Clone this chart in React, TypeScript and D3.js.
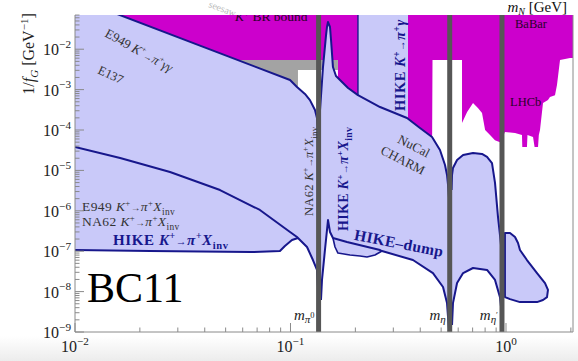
import React from "react";
import * as d3 from "d3";

const WIDTH = 578;
const HEIGHT = 361;
const PLOT = { left: 75, right: 573, top: 15, bottom: 332 };

const X_MIN = 0.01;
const X_MAX = 2.046;
const Y_MIN = 1e-9;
const Y_MAX = 0.0703;
// coupling value above the frame, used to close regions along the top edge
const Y_SKY = 0.3;

const xMajorExponents = [-2, -1, 0];
const yMajorExponents = [-9, -8, -7, -6, -5, -4, -3, -2];

// meson masses (GeV) where the bounds are vetoed
const mesons = [
  { m: 0.135, sub: "π", subSup: "0" },
  { m: 0.548, sub: "η", subSup: "" },
  { m: 0.958, sub: "η", subSup: "′" },
];

// E949 K+ -> pi+ gamma gamma upper edge of the excluded region
const e949GammaGamma: [number, number][] = [
  [0.01306, 0.108], [0.038, 0.01227], [0.0995, 1.73e-3], [0.1072, 1.16e-3],
  [0.1167, 7.8e-4], [0.1231, 5.5e-4], [0.1299, 3.13e-4], [0.1327, 1.98e-4],
  [0.1341, 1.0e-4],
];

// NA62 K+ -> pi+ X_inv reach
const na62Invisible: [number, number][] = [
  [0.01, 3.79e-5], [0.0162, 2.03e-5], [0.0276, 9.1e-6], [0.0471, 3.27e-6],
  [0.0721, 1.05e-6], [0.0995, 2.99e-7], [0.1072, 2.24e-7], [0.1083, 2.12e-7],
  [0.1193, 1.27e-7], [0.1271, 6.05e-8], [0.1327, 3.43e-8], [0.1341, 1.3e-8],
  [0.1348, 4e-9],
];

// HIKE K+ -> pi+ X_inv projection
const hikeInvisible: [number, number][] = [
  [0.01, 1.07e-7], [0.0223, 1.01e-7], [0.0649, 9.5e-8], [0.0893, 1.01e-7],
  [0.0942, 1.35e-7], [0.1016, 1.89e-7], [0.1083, 2.12e-7],
];

// beam-dump (NuCal / CHARM) upper edge between pi0 and eta
const beamDumpUpper: [number, number][] = [
  [0.1358, 1.2e-4], [0.1371, 3.13e-4], [0.1415, 3.62e-3], [0.1462, 0.0224],
  [0.1477, 0.0355], [0.1493, 0.0471], [0.1525, 0.0355], [0.1542, 0.0169],
  [0.1574, 3.62e-3], [0.1626, 2.17e-3], [0.1697, 1.73e-3], [0.185, 1.1e-3],
  [0.2056, 7.3e-4], [0.2603, 3.71e-4], [0.3473, 1.98e-4], [0.3989, 1.12e-4],
  [0.4537, 6.7e-5], [0.4939, 3.2e-5], [0.5212, 1.36e-5], [0.5325, 7.7e-6],
  [0.5383, 4.35e-6], [0.5443, 2.0e-6],
];

// HIKE beam-dump lower edge between pi0 and eta
const hikeDump: [number, number][] = [
  [0.1385, 6.2e-9], [0.14, 1.94e-8], [0.1445, 1.07e-7], [0.1493, 5.9e-7],
  [0.1525, 2.99e-7], [0.1574, 2.12e-7], [0.1828, 1.69e-7], [0.2603, 1.07e-7],
  [0.2658, 1.01e-7], [0.37, 6.05e-8], [0.4582, 2.88e-8], [0.5102, 1.3e-8],
  [0.5325, 5.2e-9], [0.5383, 2.35e-9], [0.5443, 1.12e-9],
];

// small HIKE beam-dump pocket under the main curve
const hikeDumpPocket: [number, number][] = [
  [0.1574, 2.12e-7], [0.1609, 1.27e-7], [0.166, 9.0e-8], [0.1888, 8.05e-8],
  [0.2102, 7.6e-8], [0.2264, 7.2e-8], [0.2466, 8.05e-8], [0.2658, 1.01e-7],
];

// HIKE K+ -> pi+ gamma mass window
const hikeGammaWindow: [number, number] = [0.2056, 0.3508];

// region between eta and eta'
const etaUpper: [number, number][] = [
  [0.559, 3.27e-6], [0.5617, 7.7e-6], [0.5675, 1.15e-5], [0.5928, 1.81e-5],
  [0.6324, 2.4e-5], [0.703, 2.7e-5], [0.7737, 2.55e-5], [0.8166, 2.15e-5],
  [0.861, 1.52e-5], [0.8892, 4.9e-6], [0.9182, 7.0e-7], [0.9376, 2.52e-7],
  [0.9482, 1.42e-7], [0.9572, 4.55e-8],
];
const etaLower: [number, number][] = [
  [0.5617, 1.49e-9], [0.5675, 5.2e-9], [0.5928, 1.63e-8], [0.6324, 2.88e-8],
  [0.703, 3.84e-8], [0.8166, 3.43e-8], [0.8892, 1.94e-8], [0.9376, 7.3e-9],
  [0.9572, 2.64e-9],
];

// island above eta'
const etaPrimeIsland: [number, number][] = [
  [0.9885, 2.82e-7], [1.044, 2.82e-7], [1.101, 2.24e-7], [1.137, 1.6e-7],
  [1.161, 1.07e-7], [1.251, 6.05e-8], [1.393, 2.88e-8], [1.517, 1.63e-8],
  [1.566, 1.1e-8], [1.55, 7.3e-9], [1.485, 6.2e-9], [1.393, 5.5e-9],
  [1.161, 5.5e-9], [1.044, 6.5e-9], [0.9885, 7.3e-9],
];

// K+ BR bound (top-left block)
const kBrBound = { mMin: 0.01, mMax: 0.2056, vMin: 5.41e-3, stepMin: 0.166, stepLow: 5.5e-4 };
// seesaw band
const seesawBand = { mMin: 0.0583, mMax: 0.166, vMin: 3.05e-3, vMax: 5.41e-3, tailMax: 0.1083, tailLow: 1.0e-3 };

// BaBar / LHCb lower edge, right of the HIKE K+ -> pi+ gamma window
const babarLhcb: [number, number][] = [
  [0.3508, Y_SKY], [0.3508, 7.5e-5], [0.454, 4.26e-5], [0.456, 5.41e-3],
  [0.625, 5.41e-3], [0.625, 1.49e-4], [0.66, 2.79e-4], [0.703, 4.66e-4],
  [0.741, 3.5e-4], [0.774, 2.64e-4], [0.8, 1.0e-4], [0.843, 7.5e-5],
  [0.889, 5.6e-5], [0.938, 5.0e-5], [0.989, 8.9e-5], [1.101, 8.4e-5],
  [1.186, 7.5e-5], [1.19, 3.79e-5], [1.251, 3.79e-5], [1.258, 7.5e-5],
  [1.335, 6.7e-5], [1.357, 3.79e-5], [1.408, 3.79e-5], [1.42, 7.5e-5],
  [1.438, 1.0e-4], [1.485, 4.66e-4], [1.566, 5.5e-4], [1.6, 6.6e-4],
  [1.688, 7.3e-4], [1.724, 1.3e-3], [1.781, 5.41e-3], [1.982, 6.05e-3],
  [2.2, 6.05e-3], [2.2, Y_SKY],
];

const FILL_BLUE = "#c9c9f9";
const MAGENTA = "#cc00cc";
const NAVY = "#17178c";
const BAND_GRAY = "#a3a3a3";
const AXIS_GRAY = "#8a8a8a";
const FONT = "'Liberation Serif', 'DejaVu Serif', serif";

const x = d3.scaleLog().domain([X_MIN, X_MAX]).range([PLOT.left, PLOT.right]);
const y = d3.scaleLog().domain([Y_MIN, Y_MAX]).range([PLOT.bottom, PLOT.top]);

const line = d3
  .line<[number, number]>()
  .x((d) => x(d[0]))
  .y((d) => y(d[1]));
const closed = d3
  .line<[number, number]>()
  .x((d) => x(d[0]))
  .y((d) => y(d[1]))
  .curve(d3.curveLinearClosed);

function rectPath(m0: number, m1: number, v0: number, v1: number) {
  return closed([[m0, v0], [m1, v0], [m1, v1], [m0, v1]]) as string;
}

// left of the pi0: everything below the E949 edge and above HIKE X_inv
const leftRegion: [number, number][] = [
  [X_MIN, Y_SKY],
  ...e949GammaGamma,
  [mesons[0].m, e949GammaGamma[e949GammaGamma.length - 1][1]],
  [mesons[0].m, 1.3e-8],
  ...na62Invisible.filter((d) => d[0] >= 0.1083 && d[0] <= 0.1341).reverse(),
  ...hikeInvisible.slice(0, -1).reverse(),
];

// between pi0 and eta
const midRegion: [number, number][] = [
  [mesons[0].m, beamDumpUpper[0][1]],
  ...beamDumpUpper.filter((d) => d[0] <= hikeGammaWindow[0]),
  [hikeGammaWindow[0], Y_SKY],
  [hikeGammaWindow[1], Y_SKY],
  [hikeGammaWindow[1], 1.96e-4],
  ...beamDumpUpper.filter((d) => d[0] > hikeGammaWindow[1]),
  [mesons[1].m, 2.0e-6],
  [mesons[1].m, Y_MIN],
  ...hikeDump.filter((d) => d[0] > 0.2658).reverse(),
  ...hikeDumpPocket.slice().reverse(),
  ...hikeDump.filter((d) => d[0] < 0.1574).reverse(),
  [mesons[0].m, 6.2e-9],
];

// between eta and eta'
const etaRegion: [number, number][] = [
  [mesons[1].m, 3.0e-6],
  ...etaUpper,
  [mesons[2].m, 4.55e-8],
  [mesons[2].m, 2.6e-9],
  ...etaLower.slice().reverse(),
  [mesons[1].m, 1.49e-9],
];

function minorTicks(min: number, max: number) {
  const out: { v: number; major: boolean }[] = [];
  for (let e = Math.floor(Math.log10(min)); e <= Math.ceil(Math.log10(max)); e++) {
    for (let k = 1; k <= 9; k++) {
      const v = k * Math.pow(10, e);
      if (v >= min * 0.999 && v <= max * 1.001) out.push({ v, major: k === 1 });
    }
  }
  return out;
}

function Decay({ fs, tail, sub }: { fs: number; tail: string; sub?: string }) {
  const up = fs * 0.38;
  return (
    <>
      <tspan fontStyle="italic">K</tspan>
      <tspan dy={-up} fontSize={fs * 0.65}>+</tspan>
      <tspan dy={up} fontSize={fs * 0.72}>→</tspan>
      <tspan fontStyle="italic">π</tspan>
      <tspan dy={-up} fontSize={fs * 0.65}>+</tspan>
      <tspan dy={up} fontStyle="italic">{tail}</tspan>
      {sub ? (
        <tspan dy={fs * 0.28} fontSize={fs * 0.7}>{sub}</tspan>
      ) : null}
    </>
  );
}

function Power({ exp, fs }: { exp: number; fs: number }) {
  return (
    <>
      <tspan>10</tspan>
      <tspan dy={-fs * 0.45} fontSize={fs * 0.7}>
        {exp < 0 ? `−${-exp}` : `${exp}`}
      </tspan>
    </>
  );
}

export default function App() {
  const xTicks = minorTicks(X_MIN, X_MAX);
  const yTicks = minorTicks(Y_MIN, Y_MAX);
  const pw = PLOT.right - PLOT.left;
  const ph = PLOT.bottom - PLOT.top;

  return (
    <svg
      width={WIDTH}
      height={HEIGHT}
      viewBox={`0 0 ${WIDTH} ${HEIGHT}`}
      style={{ position: "absolute", left: 0, top: 0, background: "#fff" }}
      fontFamily={FONT}
    >
      <defs>
        <clipPath id="plot-clip">
          <rect x={PLOT.left} y={PLOT.top} width={pw} height={ph} />
        </clipPath>
        <linearGradient id="floor" x1="0" y1="0" x2="0" y2="1">
          <stop offset="0" stopColor="#ffffff" />
          <stop offset="1" stopColor="#ececec" />
        </linearGradient>
      </defs>
      <rect x={0} y={0} width={WIDTH} height={HEIGHT} fill="#fff" />
      <rect x={0} y={336} width={WIDTH} height={HEIGHT - 336} fill="url(#floor)" />

      {/* seesaw label peeking above the frame */}
      <text transform="translate(208,7) rotate(20)" fontSize={10} fill="#b8b8b8">
        seesaw
      </text>

      {/* axis title, top right */}
      <text x={567} y={12} textAnchor="end" fontSize={15} fill="#111">
        <tspan fontStyle="italic">m</tspan>
        <tspan dy={2.5} fontSize={10} fontStyle="italic">N</tspan>
        <tspan dy={-2.5}> [GeV]</tspan>
      </text>

      <g clipPath="url(#plot-clip)">
        {/* K+ BR bound */}
        <path d={rectPath(kBrBound.mMin, kBrBound.mMax, kBrBound.vMin, Y_SKY)} fill={MAGENTA} />
        <path d={rectPath(kBrBound.stepMin, kBrBound.mMax, kBrBound.stepLow, kBrBound.vMin)} fill={MAGENTA} />
        {/* seesaw band */}
        <path d={rectPath(seesawBand.mMin, seesawBand.mMax, seesawBand.vMin, seesawBand.vMax)} fill={BAND_GRAY} />
        <path d={rectPath(seesawBand.mMin, seesawBand.tailMax, seesawBand.tailLow, seesawBand.vMin)} fill={BAND_GRAY} />
        {/* BaBar / LHCb */}
        <path d={closed(babarLhcb) as string} fill={MAGENTA} />

        {/* excluded / projected regions */}
        <path d={closed(leftRegion) as string} fill={FILL_BLUE} />
        <path d={closed(midRegion) as string} fill={FILL_BLUE} />
        <path d={closed(etaRegion) as string} fill={FILL_BLUE} />
        <path d={closed(etaPrimeIsland) as string} fill={FILL_BLUE} />

        {/* boundary curves */}
        <g fill="none" stroke={NAVY} strokeWidth={2} strokeLinejoin="round">
          <path d={line(e949GammaGamma) as string} />
          <path d={line(na62Invisible) as string} />
          <path d={line(hikeInvisible) as string} />
          <path d={line(beamDumpUpper) as string} />
          <path d={line(hikeDump) as string} />
          <path d={line(hikeDumpPocket) as string} strokeWidth={1.6} />
          <path d={line(etaUpper) as string} />
          <path d={line(etaLower) as string} />
          <path d={closed(etaPrimeIsland) as string} />
          <path
            d={line([[hikeGammaWindow[0], Y_SKY], [hikeGammaWindow[0], 7.3e-4]]) as string}
            strokeWidth={1.4}
          />
        </g>

        {/* meson vetoes */}
        {mesons.map((d) => (
          <line
            key={d.m}
            x1={x(d.m)}
            x2={x(d.m)}
            y1={PLOT.top}
            y2={PLOT.bottom}
            stroke="#565656"
            strokeWidth={5}
          />
        ))}

        {/* region labels */}
        <text x={235} y={21} fontSize={13.5} fill="#2a002a">
          <tspan fontStyle="italic">K</tspan>
          <tspan dy={-5} fontSize={9}>+</tspan>
          <tspan dy={5}> BR bound</tspan>
        </text>
        <text x={515} y={28} fontSize={12.5} fill="#2a002a">BaBar</text>
        <text x={510} y={106} fontSize={12.5} fill="#2a002a">LHCb</text>

        <text transform="translate(104,36) rotate(29)" fontSize={13} fill="#333">
          E949 <Decay fs={13} tail="γγ" />
        </text>
        <text transform="translate(97,73) rotate(25)" fontSize={12.5} fill="#333">
          E137
        </text>
        <text x={82} y={211} fontSize={13.5} fill="#333" letterSpacing={0.4}>
          E949 <Decay fs={13.5} tail="X" sub="inv" />
        </text>
        <text x={82} y={226} fontSize={13.5} fill="#333" letterSpacing={0.4}>
          NA62 <Decay fs={13.5} tail="X" sub="inv" />
        </text>
        <text x={113} y={245} fontSize={15} fill={NAVY} fontWeight="bold" letterSpacing={0.6}>
          HIKE <Decay fs={15} tail="X" sub="inv" />
        </text>
        <text x={87} y={302} fontSize={42} fill="#000">
          BC11
        </text>

        <text transform="translate(313,216) rotate(-90)" fontSize={12.5} fill="#333" letterSpacing={0.3}>
          NA62 <Decay fs={12.5} tail="X" sub="inv" />
        </text>
        <text transform="translate(348,231) rotate(-90)" fontSize={14} fill={NAVY} fontWeight="bold" letterSpacing={0.3}>
          HIKE <Decay fs={14} tail="X" sub="inv" />
        </text>
        <text transform="translate(405,111) rotate(-90)" fontSize={14.5} fill={NAVY} fontWeight="bold" letterSpacing={0.5}>
          HIKE <Decay fs={14.5} tail="γ" />
        </text>

        <text transform="translate(414,146) rotate(27)" textAnchor="middle" dy="0.35em" fontSize={13} fill="#333">
          NuCal
        </text>
        <text transform="translate(403,160) rotate(27)" textAnchor="middle" dy="0.35em" fontSize={13} fill="#333">
          CHARM
        </text>
        <text transform="translate(399,243) rotate(11)" textAnchor="middle" dy="0.35em" fontSize={15.5} fill={NAVY} fontWeight="bold" letterSpacing={0.4}>
          HIKE–dump
        </text>

        {mesons.map((d) => (
          <text key={`l${d.m}`} x={x(d.m) - 4} y={320} textAnchor="end" fontSize={15} fill="#222">
            <tspan fontStyle="italic">m</tspan>
            <tspan dy={3} fontSize={11} fontStyle="italic">{d.sub}</tspan>
            {d.subSup ? (
              <tspan dy={-5} fontSize={8.5}>{d.subSup}</tspan>
            ) : null}
          </text>
        ))}
      </g>

      {/* frame */}
      <g stroke={AXIS_GRAY} strokeWidth={1} fill="none">
        <line x1={PLOT.left} x2={PLOT.left} y1={PLOT.top} y2={PLOT.bottom} />
        <line x1={PLOT.left} x2={PLOT.right} y1={PLOT.bottom} y2={PLOT.bottom} />
        <line x1={PLOT.right} x2={PLOT.right} y1={PLOT.top} y2={PLOT.bottom} />
        {yTicks.map((t) => (
          <line
            key={`y${t.v}`}
            x1={PLOT.left}
            x2={PLOT.left + (t.major ? 9 : 4.5)}
            y1={y(t.v)}
            y2={y(t.v)}
          />
        ))}
        {xTicks.map((t) => (
          <line
            key={`x${t.v}`}
            x1={x(t.v)}
            x2={x(t.v)}
            y1={PLOT.bottom}
            y2={PLOT.bottom - (t.major ? 9 : 4.5)}
          />
        ))}
      </g>

      {/* tick labels */}
      {yMajorExponents.map((e) => (
        <text key={`yl${e}`} x={71} y={y(Math.pow(10, e)) + 6} textAnchor="end" fontSize={16} fill="#222">
          <Power exp={e} fs={16} />
        </text>
      ))}
      {xMajorExponents.map((e) => (
        <text key={`xl${e}`} x={x(Math.pow(10, e))} y={352} textAnchor="middle" fontSize={16} fill="#222">
          <Power exp={e} fs={16} />
        </text>
      ))}

      {/* y axis title */}
      <text transform="translate(34,54) rotate(-90)" textAnchor="middle" fontSize={16} fill="#222">
        <tspan>1/</tspan>
        <tspan fontStyle="italic">f</tspan>
        <tspan dy={4} fontSize={11} fontStyle="italic">G</tspan>
        <tspan dy={-4}> [GeV</tspan>
        <tspan dy={-6} fontSize={11}>−1</tspan>
        <tspan dy={6}>]</tspan>
      </text>
    </svg>
  );
}
